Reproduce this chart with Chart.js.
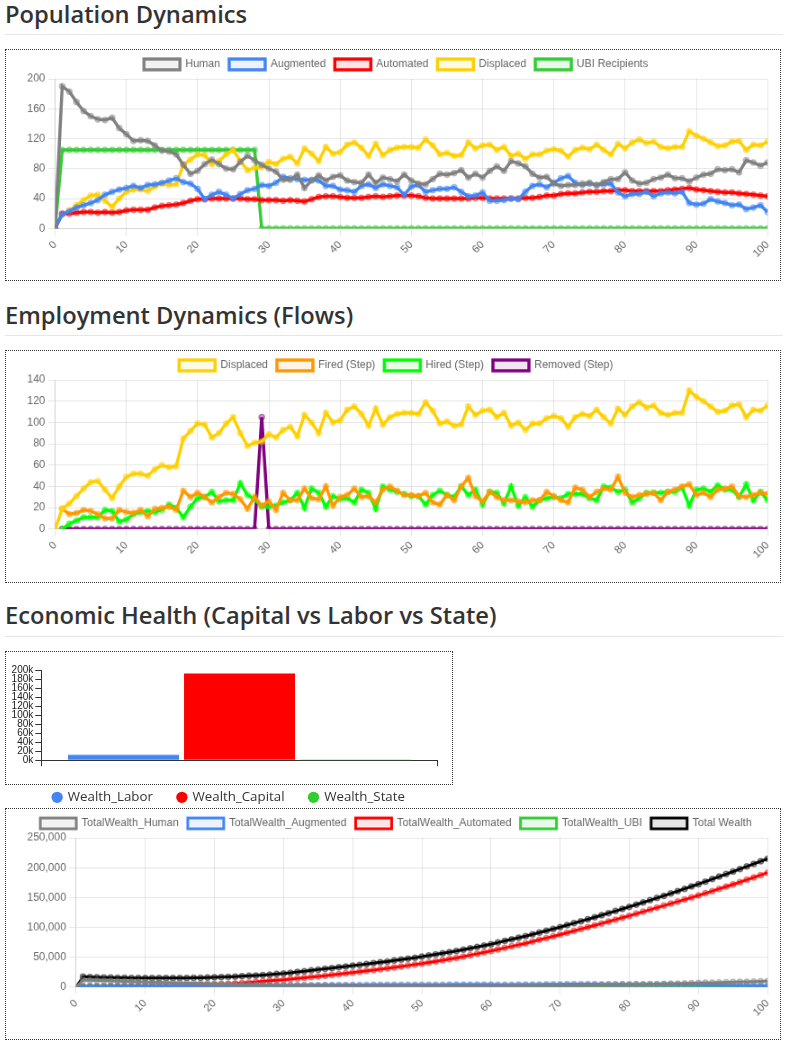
<!DOCTYPE html>
<html><head><meta charset="utf-8">
<script src="https://cdn.jsdelivr.net/npm/chart.js@4.4.1/dist/chart.umd.min.js"></script>
<style>
html,body{margin:0;padding:0;background:#fff}
body{width:790px;height:1048px;position:relative;overflow:hidden;font-family:'Open Sans',sans-serif}
.t{position:absolute;left:5px;font-size:23.7px;font-weight:600;line-height:1;color:#333;white-space:nowrap}
.hr{position:absolute;left:5px;width:778px;height:1px;background:#e6e6e6}
.box{position:absolute;left:5px;width:774px;border:1px dotted #333}
.sc{position:absolute;left:0;top:0;transform:scale(0.9);transform-origin:0 0}
</style></head><body>
<div class="t" style="top:3px">Population Dynamics</div>
<div class="hr" style="top:34px"></div>
<div class="box" style="top:49px;height:230px"><canvas id="pop" class="sc" width="860" height="256"></canvas></div>
<div class="t" style="top:304px">Employment Dynamics (Flows)</div>
<div class="hr" style="top:335px"></div>
<div class="box" style="top:350px;height:231px"><canvas id="emp" class="sc" width="860" height="257"></canvas></div>
<div class="t" style="top:604px">Economic Health (Capital vs Labor vs State)</div>
<div class="hr" style="top:636px"></div>
<div class="box" style="top:651px;width:446px;height:132px"></div>
<canvas id="bar" width="446" height="162" style="position:absolute;left:6px;top:652px"></canvas>
<div class="box" style="top:808px;height:230px"><canvas id="wealth" class="sc" width="860" height="256"></canvas></div>
<script>
// ---------- DATA ----------
const steps = [];
for (let i = 0; i <= 100; i++) steps.push(i);

const human = [
0,190,183,169,157,150,146,145,148,134,
126,117,118,117,111,104,103,99,85,73,
77,86,92,86,80,79,89,97,91,85,
80,76,65,65,72,54,64,71,64,69,
71,64,62,61,72,61,68,66,63,72,
64,60,59,66,73,72,74,78,68,73,
68,77,83,77,90,87,83,73,68,69,
60,57,58,58,60,61,58,62,66,66,
75,64,60,61,66,68,72,67,67,63,
68,72,73,79,78,79,75,91,88,84,
88];
const augmented = [
0,19,23,28,31,34,38,45,49,52,
54,57,54,58,59,61,64,67,62,60,
53,39,45,49,45,40,46,51,53,58,
57,61,69,67,66,65,65,64,57,57,
52,51,49,57,59,54,59,57,55,45,
56,58,49,51,53,53,55,49,43,44,
48,37,37,38,40,39,49,57,59,55,
61,67,70,61,58,60,58,59,60,48,
43,46,46,49,43,47,48,47,49,34,
32,33,39,36,34,31,32,26,28,31,
22];
const automated = [
0,20,20,21,22,22,21,22,21,22,
24,25,25,25,28,30,31,32,34,37,
39,39,40,40,40,40,40,39,39,38,
38,38,37,38,37,36,39,42,43,43,
42,41,41,41,42,43,42,43,44,44,
44,43,41,40,40,40,40,40,40,41,
41,40,40,40,40,40,41,41,42,44,
44,46,47,47,48,49,49,50,50,51,
51,50,50,50,50,50,51,52,53,54,
52,51,50,49,48,48,47,46,45,44,
43];
const displaced = [
0,19,24,31,38,44,45,37,29,40,
49,52,52,50,56,60,58,59,85,92,
99,98,86,90,99,105,90,78,81,82,
89,86,93,96,87,107,100,90,109,100,
102,112,115,108,97,113,98,105,108,109,
109,108,119,111,99,101,97,98,115,107,
111,112,105,109,97,100,93,99,99,104,
106,104,96,105,108,106,112,105,99,113,
107,115,119,114,116,109,107,109,109,130,
124,120,115,110,111,116,117,105,112,111,
116];
const ubiRecipients = [
0,105,105,105,105,105,105,105,105,105,
105,105,105,105,105,105,105,105,105,105,
105,105,105,105,105,105,105,105,105,0,
0,0,0,0,0,0,0,0,0,0,
0,0,0,0,0,0,0,0,0,0,
0,0,0,0,0,0,0,0,0,0,
0,0,0,0,0,0,0,0,0,0,
0,0,0,0,0,0,0,0,0,0,
0,0,0,0,0,0,0,0,0,0,
0,0,0,0,0,0,0,0,0,0,
0];
const firedStep = [
null,19,14,15,18,17,14,10,10,18,
16,15,18,12,19,20,21,18,36,30,
34,30,25,30,34,33,28,19,30,22,
26,18,34,27,27,38,29,28,40,22,
30,32,38,30,31,25,37,40,36,32,
32,31,34,25,23,32,27,40,48,31,
26,35,30,27,27,26,25,27,27,35,
31,27,25,39,37,30,35,38,37,49,
34,30,32,33,34,27,35,37,40,42,
32,34,30,37,38,40,31,30,32,34,
33];
const hiredStep = [
null,0,5,8,11,11,11,18,17,7,
9,14,16,17,16,18,23,20,11,21,
29,30,35,26,27,27,43,32,28,21,
21,22,25,27,34,20,38,34,21,31,
28,29,25,37,34,19,40,37,35,33,
31,31,23,32,36,32,30,40,32,37,
23,35,34,24,40,22,30,21,27,29,
30,29,33,33,33,29,27,40,39,35,
37,25,29,34,34,34,35,35,39,22,
37,38,35,41,37,37,30,42,27,35,
27];
const removedStep = [
null,0,0,0,0,0,0,0,0,0,
0,0,0,0,0,0,0,0,0,0,
0,0,0,0,0,0,0,0,0,105,
0,0,0,0,0,0,0,0,0,0,
0,0,0,0,0,0,0,0,0,0,
0,0,0,0,0,0,0,0,0,0,
0,0,0,0,0,0,0,0,0,0,
0,0,0,0,0,0,0,0,0,0,
0,0,0,0,0,0,0,0,0,0,
0,0,0,0,0,0,0,0,0,0,
0];

const wealthCategories = ['Wealth_Labor','Wealth_Capital','Wealth_State'];
const wealthValues = [12700, 192700, 0];

const totalWealthHuman = [
0,12000,11600,11200,10800,10400,10000,9600,9300,9000,
8700,8400,8100,7800,7500,7200,6900,6600,6300,6000,
5700,5400,5100,4800,4500,4200,4000,3800,3600,3400,
3200,3000,2900,2800,2700,2600,2500,2400,2300,2200,
2100,2000,2000,1900,1900,1800,1800,1800,1700,1700,
1700,1700,1700,1700,1700,1800,1800,1800,1900,1900,
2000,2000,2100,2100,2200,2300,2400,2500,2600,2700,
2800,2900,3000,3100,3300,3500,3700,3900,4100,4300,
4500,4700,4900,5100,5300,5500,5800,6100,6400,6700,
7000,7300,7600,7900,8200,8500,8800,9100,9400,9700,
10000];
const totalWealthAugmented = [
0,800,900,1000,1100,1200,1300,1400,1500,1600,
1700,1800,1900,2000,2100,2200,2300,2400,2500,2600,
2600,2700,2700,2800,2800,2900,2900,3000,3000,3100,
3100,3200,3300,3400,3500,3500,3600,3600,3700,3700,
3700,3800,3800,3900,3900,4000,4000,4000,4100,4100,
4100,4200,4200,4200,4300,4300,4300,4300,4300,4300,
4300,4200,4200,4200,4300,4300,4400,4600,4800,4900,
5000,5200,5300,5200,5100,5100,5000,5000,5000,4800,
4600,4600,4600,4600,4500,4500,4500,4500,4500,4100,
3900,3800,3700,3600,3400,3200,3000,2800,2600,2400,
2200];
const totalWealthAutomated = [
0,500,600,700,800,900,1000,1100,1200,1350,
1500,1650,1800,2000,2200,2500,2800,3200,3600,4000,
4500,5100,5700,6400,7200,8000,8900,9800,10700,11600,
12500,13500,14600,15700,16800,18000,19300,20600,21900,23200,
24500,25900,27300,28700,30100,31500,33100,34700,36300,37900,
39500,41400,43300,45200,47100,49000,51300,53600,55900,58200,
60500,63100,65700,68300,70900,73500,76400,79300,82200,85100,
88000,91100,94200,97300,100400,103500,106700,109900,113100,116300,
119500,122900,126300,129700,133100,136500,139900,143300,146700,150100,
153500,157200,160900,164600,168300,172000,175900,179800,183700,187600,
191800];
const totalWealthUBI = [
0,1800,1900,2000,2000,2100,2100,2200,2200,2200,
2300,2300,2300,2300,2400,2400,2400,2400,2400,2500,
2500,2500,2500,2500,2500,2500,2500,2500,2500,0,
0,0,0,0,0,0,0,0,0,0,
0,0,0,0,0,0,0,0,0,0,
0,0,0,0,0,0,0,0,0,0,
0,0,0,0,0,0,0,0,0,0,
0,0,0,0,0,0,0,0,0,0,
0,0,0,0,0,0,0,0,0,0,
0,0,0,0,0,0,0,0,0,0,
0];
const totalWealth = [
0,17500,17000,16600,16300,16000,15800,15600,15500,15400,
15300,15200,15200,15200,15300,15400,15500,15700,15900,16200,
16500,16900,17300,17800,18400,19000,19700,20400,21200,22100,
23000,24200,25400,26700,28100,29500,30800,32100,33400,34700,
36000,37400,38800,40200,41600,43000,44600,46200,47800,49400,
51000,52900,54800,56700,58600,60500,62800,65100,67400,69700,
72000,74700,77400,80100,82800,85500,88500,91500,94500,97500,
100500,103800,107100,110400,113700,117000,120500,124000,127500,131000,
134500,138200,141900,145600,149300,153000,156900,160800,164700,168600,
172500,176700,180900,185100,189300,193500,197800,202100,206400,210700,
215000];

// ---------- STYLE ----------
Chart.defaults.font.family = "'Liberation Sans', Arial, sans-serif";
Chart.defaults.color = '#666';

function series(label, data, rgb, width) {
  return {
    label, data,
    borderColor: `rgb(${rgb})`,
    backgroundColor: `rgba(${rgb},0.1)`,
    pointBorderColor: `rgba(${rgb},0.5)`,
    pointBackgroundColor: `rgba(${rgb},0.3)`,
    borderWidth: width, pointRadius: 3, pointBorderWidth: 1.5, tension: 0
  };
}
function lineOptions(yMax, yStep, padBottom) {
  return {
    responsive: false, animation: false, events: [], locale: 'en-US',
    layout: { padding: { left: 20.5, right: 13.8, top: 0, bottom: padBottom } },
    plugins: { legend: { labels: { color: '#666' } }, tooltip: { enabled: false } },
    scales: {
      x: { type: 'linear', min: 0, max: 100, ticks: { stepSize: 10, minRotation: 45, maxRotation: 45 } },
      y: { min: 0, max: yMax, ticks: { stepSize: yStep } }
    }
  };
}

new Chart(document.getElementById('pop'), {
  type: 'line',
  data: { labels: steps, datasets: [
    series('Human', human, '128,128,128', 3.5),
    series('Augmented', augmented, '66,133,244', 3.5),
    series('Automated', automated, '255,0,0', 3.5),
    series('Displaced', displaced, '255,208,0', 3.5),
    series('UBI Recipients', ubiRecipients, '50,205,50', 3.5)
  ]},
  options: lineOptions(200, 40, 19.4)
});

new Chart(document.getElementById('emp'), {
  type: 'line',
  data: { labels: steps, datasets: [
    series('Displaced', displaced, '255,208,0', 3.5),
    series('Fired (Step)', firedStep, '255,152,0', 3.5),
    series('Hired (Step)', hiredStep, '0,255,0', 3.5),
    series('Removed (Step)', removedStep, '128,0,128', 3.5)
  ]},
  options: lineOptions(140, 20, 20.8)
});

const barColors = ['#4285F4', '#FF0000', '#32CD32'];
const barEdgeColors = ['#9dbff8', '#ff8080', '#90e090'];
const shiftLegend = {
  id: 'shiftLegend',
  afterLayout(chart) { chart.legend.left += 7.4; chart.legend.right += 7.4; }
};
new Chart(document.getElementById('bar'), {
  type: 'bar',
  plugins: [shiftLegend],
  data: { labels: wealthCategories, datasets: [{
    label: 'Wealth',
    data: wealthValues.map((v, i) => ({ x: i, y: v })),
    backgroundColor: barColors,
    borderColor: barEdgeColors,
    borderWidth: { top: 1, left: 0, right: 0, bottom: 0 },
    barThickness: 111
  }]},
  options: {
    responsive: false, animation: false, events: [],
    layout: { padding: { left: 0, right: 14.7, top: 18, bottom: 0 } },
    plugins: {
      tooltip: { enabled: false },
      legend: {
        position: 'bottom',
        labels: {
          usePointStyle: true, boxWidth: 8, boxHeight: 8, padding: 25, color: '#333',
          font: { family: "'Open Sans', sans-serif", size: 13.3 },
          generateLabels: () => wealthCategories.map((c, i) => ({
            text: c, fillStyle: barColors[i], strokeStyle: barColors[i], lineWidth: 0,
            pointStyle: 'circle', hidden: false, index: i, datasetIndex: 0, fontColor: '#333'
          }))
        }
      }
    },
    scales: {
      x: {
        type: 'linear', min: -0.709, max: 2.705, offset: false,
        grid: { offset: false, drawOnChartArea: false, drawTicks: true, tickLength: 6, color: '#333' },
        border: { color: '#333', width: 1 },
        ticks: { callback: () => '' },
        afterBuildTicks: s => { s.ticks = [{ value: s.min }, { value: s.max }]; },
        afterFit: s => { s.height = 5.5; }
      },
      y: {
        min: 0, max: 200000,
        ticks: { stepSize: 20000, autoSkip: false, padding: 2, color: '#1a1a1a',
                 font: { size: 10 }, callback: v => (v / 1000) + 'k' },
        grid: { drawOnChartArea: false, tickLength: 6, color: '#333' },
        border: { color: '#333', width: 1 },
        afterFit: s => { s.width = 35.3; }
      }
    }
  }
});

new Chart(document.getElementById('wealth'), {
  type: 'line',
  data: { labels: steps, datasets: [
    series('TotalWealth_Human', totalWealthHuman, '128,128,128', 3),
    series('TotalWealth_Augmented', totalWealthAugmented, '66,133,244', 3),
    series('TotalWealth_Automated', totalWealthAutomated, '255,0,0', 3),
    series('TotalWealth_UBI', totalWealthUBI, '50,205,50', 3),
    series('Total Wealth', totalWealth, '0,0,0', 3)
  ]},
  options: lineOptions(250000, 50000, 19.7)
});
</script>
</body></html>
